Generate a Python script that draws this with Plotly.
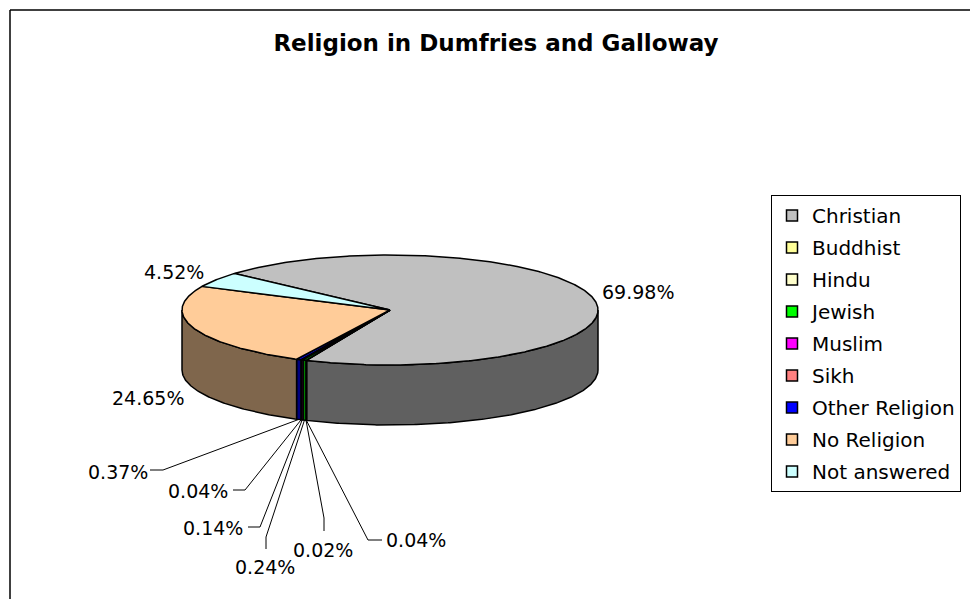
import numpy as np
import plotly.graph_objects as go

# ---------------- data ----------------
religions = ["Christian", "Buddhist", "Hindu", "Jewish", "Muslim", "Sikh",
             "Other Religion", "No Religion", "Not answered"]
percent = [69.98, 0.04, 0.02, 0.24, 0.14, 0.04, 0.37, 24.65, 4.52]
top_colors = ["#C0C0C0", "#FFFF99", "#FFFFCC", "#00FF00", "#FF00FF",
              "#FF8080", "#0000FF", "#FFCC99", "#CCFFFF"]
title_text = "Religion in Dumfries and Galloway"

# ---------------- layout constants (pixels) ----------------
W, H = 970, 599
CX, CY = 390, 310       # centre of top face
A, B = 208, 55          # ellipse semi-axes
DEPTH = 60              # thickness of the pie
START = 311.7           # angle of first slice (deg, clockwise from 12 o'clock)

def darker(hexc):
    r, g, b = int(hexc[1:3], 16), int(hexc[3:5], 16), int(hexc[5:7], 16)
    return "#%02X%02X%02X" % (r // 2, g // 2, b // 2)

def pt(theta_deg, dz=0.0):
    t = np.radians(theta_deg)
    return CX + A * np.sin(t), CY - B * np.cos(t) + dz

# slice angle bounds computed from the data
total = sum(percent)
bounds = []
cur = START
for v in percent:
    span = v / total * 360.0
    bounds.append((cur, cur + span))
    cur += span

fig = go.Figure()

# ---- side walls (front half only) ----
for name, (t0, t1), col in zip(religions, bounds, top_colors):
    for k in range(-1, 3):
        s = max(t0, 90 + 360 * k)
        e = min(t1, 270 + 360 * k)
        if e > s:
            th = np.linspace(s, e, max(2, int((e - s) * 2) + 2))
            xs_t, ys_t = pt(th)
            xs_b, ys_b = pt(th[::-1], DEPTH)
            xs = np.concatenate([xs_t, xs_b, xs_t[:1]])
            ys = np.concatenate([ys_t, ys_b, ys_t[:1]])
            fig.add_trace(go.Scatter(x=xs, y=ys, mode="lines", fill="toself",
                                     fillcolor=darker(col),
                                     line=dict(color="black", width=1.5),
                                     hoverinfo="skip", showlegend=False))

# ---- top faces ----
for name, v, (t0, t1), col in zip(religions, percent, bounds, top_colors):
    th = np.linspace(t0, t1, max(2, int((t1 - t0) * 2) + 2))
    xs, ys = pt(th)
    xs = np.concatenate([[CX], xs, [CX]])
    ys = np.concatenate([[CY], ys, [CY]])
    fig.add_trace(go.Scatter(x=xs, y=ys, mode="lines", fill="toself",
                             fillcolor=col, line=dict(color="black", width=1.5),
                             name=name, text=f"{name}: {v:.2f}%",
                             hoverinfo="text", hoveron="fills",
                             showlegend=False))

# ---- legend entries ----
for i, (name, col) in enumerate(zip(religions, top_colors)):
    fig.add_trace(go.Scatter(x=[None], y=[None], mode="markers", name=name,
                             legendgroup=f"g{i}",
                             marker=dict(symbol="square", size=11, color=col,
                                         line=dict(color="black", width=1.5))))

# ---- data labels ----
lab_font = dict(family="DejaVu Sans", size=19, color="black")
def pct(v):
    return f"{v:.2f}%"

# labels without leader lines: (index, x, y, xanchor)
plain = [(0, 600, 292, "left"), (8, 206, 272, "right"), (7, 186, 398, "right")]
for i, x, y, xa in plain:
    fig.add_annotation(x=x, y=y, text=pct(percent[i]), showarrow=False,
                       xanchor=xa, yanchor="middle", font=lab_font)

# small slices: label position and leader elbow
small = {
    1: dict(tx=384, ty=540, xa="left", elbow=[(382, 540), (368, 540)]),
    2: dict(tx=323, ty=550, xa="center", elbow=[(324, 531), (324, 518)]),
    3: dict(tx=265, ty=567, xa="center", elbow=[(266, 549), (266, 537)]),
    4: dict(tx=245, ty=528, xa="right", elbow=[(248, 527), (260, 527)]),
    5: dict(tx=230, ty=491, xa="right", elbow=[(233, 490), (245, 490)]),
    6: dict(tx=150, ty=472, xa="right", elbow=[(150, 470), (163, 470)]),
}
for i, d in small.items():
    t0, t1 = bounds[i]
    ax_, ay_ = pt((t0 + t1) / 2, DEPTH)
    xs = [p[0] for p in d["elbow"]] + [ax_]
    ys = [p[1] for p in d["elbow"]] + [ay_]
    fig.add_trace(go.Scatter(x=xs, y=ys, mode="lines",
                             line=dict(color="black", width=1),
                             hoverinfo="skip", showlegend=False))
    fig.add_annotation(x=d["tx"], y=d["ty"], text=pct(percent[i]),
                       showarrow=False, xanchor=d["xa"], yanchor="middle",
                       font=lab_font)

# ---- chart border (left & top) ----
fig.add_shape(type="line", x0=10, y0=10, x1=10, y1=H + 5,
              line=dict(color="black", width=1.5))
fig.add_shape(type="line", x0=10, y0=10, x1=W + 5, y1=10,
              line=dict(color="black", width=1.5))

fig.update_layout(
    width=W, height=H, autosize=False,
    margin=dict(l=0, r=0, t=0, b=0),
    paper_bgcolor="white", plot_bgcolor="white",
    title=dict(text=f"<b>{title_text}</b>", x=496 / W, y=1 - 43 / H,
               xanchor="center", yanchor="middle",
               font=dict(family="DejaVu Sans", size=23, color="black")),
    xaxis=dict(range=[0, W], visible=False, fixedrange=True),
    yaxis=dict(range=[H, 0], visible=False, fixedrange=True),
    showlegend=True,
    legend=dict(x=771 / W, y=1 - 195 / H, xanchor="left", yanchor="top",
                bgcolor="white", bordercolor="black", borderwidth=1,
                font=dict(family="DejaVu Sans", size=20, color="black"),
                traceorder="grouped", tracegroupgap=3,
                itemwidth=30),
)

fig.write_html("out.html")
